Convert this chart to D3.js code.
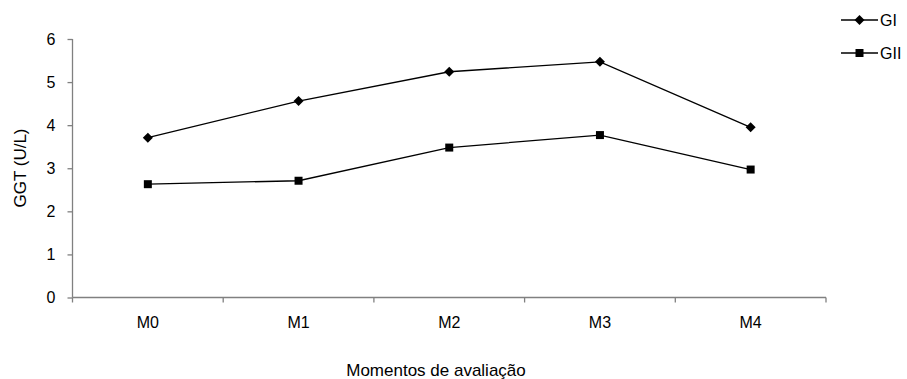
<!DOCTYPE html>
<html><head><meta charset="utf-8">
<script src="https://cdn.jsdelivr.net/npm/d3@7"></script>
<style>body{margin:0;background:#fff;} text{font-family:"Liberation Sans",Arial,sans-serif;}</style>
</head><body><svg id="c" width="907" height="379"></svg>
<script>
const categories = ["M0","M1","M2","M3","M4"];
const seriesNames = ["GI","GII"];
const giValues = [3.71, 4.56, 5.24, 5.47, 3.95];
const giiValues = [2.63, 2.71, 3.48, 3.77, 2.97];
const yTicks = [0,1,2,3,4,5,6];

const svg = d3.select("#c");
const L = 72.5, R = 826, T = 39, B = 297.5;
const x = d3.scaleBand().domain(categories).range([L, R]);
const y = d3.scaleLinear().domain([0,6]).range([B, T]);

// axes
const yAxis = d3.axisLeft(y).tickValues(yTicks).tickFormat(d3.format("d")).tickSize(5).tickPadding(12);
const gy = svg.append("g").attr("transform", `translate(${L},0)`).call(yAxis);
const xAxis = d3.axisBottom(x).tickSize(0).tickPadding(19);
const gx = svg.append("g").attr("transform", `translate(0,${B})`).call(xAxis);
gx.select(".domain").attr("d", `M${L},0H${R}`);
[gx, gy].forEach(g => {
  g.attr("font-size", 16);
  g.selectAll("path, line").attr("stroke", "#808080").attr("stroke-width", 1.3);
  g.selectAll("text").attr("font-size", 16).attr("fill", "#000").attr("font-family", "Liberation Sans, Arial, sans-serif");
});
gy.select(".domain").attr("d", `M0,${T}V${B}`);
// x boundary ticks
const bounds = categories.map(c => x(c)).concat([R]);
gx.selectAll(".bt").data(bounds).enter().append("line")
  .attr("x1", d => d).attr("x2", d => d).attr("y1", 0).attr("y2", 5)
  .attr("stroke", "#808080").attr("stroke-width", 1.3);

// lines
const line = d3.line().x((d,i) => x(categories[i]) + x.bandwidth()/2).y(d => y(d));
const diamond = d3.symbol().type(d3.symbolDiamond2).size(64);
const square = d3.symbol().type(d3.symbolSquare).size(64);
[[giValues, diamond],[giiValues, square]].forEach(([vals, sym]) => {
  svg.append("path").datum(vals).attr("d", line).attr("fill","none").attr("stroke","#000").attr("stroke-width",1.3);
  svg.selectAll(null).data(vals).enter().append("path")
    .attr("d", sym).attr("fill","#000")
    .attr("transform", (d,i) => `translate(${x(categories[i]) + x.bandwidth()/2},${y(d)})`);
});

// axis titles
svg.append("text").attr("x", 436).attr("y", 376).attr("text-anchor","middle").attr("font-size",17).text("Momentos de avaliação");
svg.append("text").attr("transform","translate(26,168) rotate(-90)").attr("text-anchor","middle").attr("font-size",17).text("GGT (U/L)");

// legend
const syms = [diamond, square];
seriesNames.forEach((n, i) => {
  const ly = 20 + i*33;
  svg.append("line").attr("x1", 841).attr("x2", 878).attr("y1", ly).attr("y2", ly).attr("stroke","#000").attr("stroke-width",1.3);
  svg.append("path").attr("d", syms[i]).attr("fill","#000").attr("transform", `translate(859.5,${ly})`);
  svg.append("text").attr("x", 880).attr("y", ly + 6).attr("font-size", 16).text(n);
});
</script></body></html>
